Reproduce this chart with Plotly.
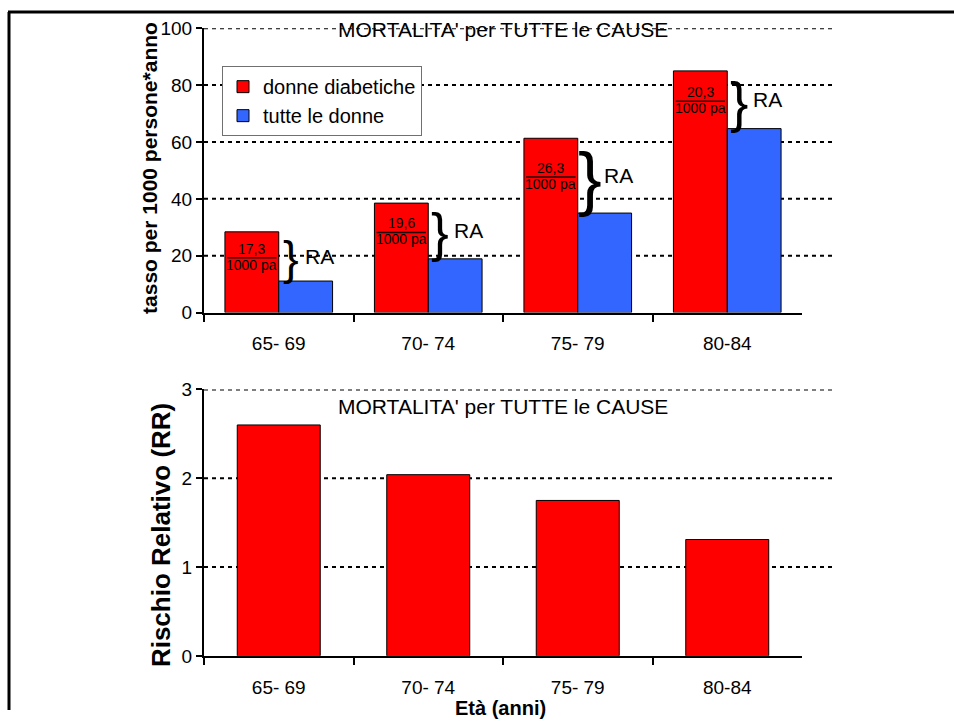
import plotly.graph_objects as go

# ---- data ----
age_groups = ["65- 69", "70- 74", "75- 79", "80-84"]
rate_diabetic = [28.4, 38.5, 61.3, 85.0]      # donne diabetiche, per 1000 pa
rate_all = [11.1, 18.9, 35.0, 64.7]           # tutte le donne, per 1000 pa
ra_labels = ["17,3", "19,6", "26,3", "20,3"]  # rischio attribuibile
rr_values = [2.60, 2.04, 1.75, 1.31]          # rischio relativo
top_ticks = [0, 20, 40, 60, 80, 100]
bottom_ticks = [0, 1, 2, 3]

W, H = 954, 721
FONT = "Liberation Sans, Arial, sans-serif"
RED = "#FF0000"
BLUE = "#3366FF"
VSCALE = 0.973  # compensates the vertical squeeze seen in the photographed page


def px_x(p):
    return p / W


def px_y(p):
    y_in = H / 2 + (p - H / 2) / VSCALE
    return min(1.0, max(0.0, 1 - y_in / H))


fig = go.Figure()

fig.add_trace(go.Bar(x=age_groups, y=rate_diabetic, name="donne diabetiche",
                     marker=dict(color=RED, line=dict(color="black", width=1)),
                     xaxis="x", yaxis="y"))
fig.add_trace(go.Bar(x=age_groups, y=rate_all, name="tutte le donne",
                     marker=dict(color=BLUE, line=dict(color="black", width=1)),
                     xaxis="x", yaxis="y"))
fig.add_trace(go.Bar(x=age_groups, y=rr_values, name="RR", showlegend=False,
                     width=0.555,
                     marker=dict(color=RED, line=dict(color="black", width=1)),
                     xaxis="x2", yaxis="y2"))

x_dom = [px_x(204), px_x(802)]
axis_common = dict(type="category", categoryorder="array", categoryarray=age_groups,
                   range=[-0.5, 3.5], domain=x_dom, tickson="boundaries",
                   ticks="outside", ticklen=7, tickwidth=1.5, tickcolor="black",
                   showline=True, linecolor="black", linewidth=2, showgrid=False,
                   ticklabelstandoff=13,
                   tickfont=dict(family=FONT, size=19, color="black"),
                   fixedrange=True)

fig.update_layout(
    width=W, height=H,
    margin=dict(l=0, r=0, t=0, b=0),
    paper_bgcolor="white", plot_bgcolor="white",
    barmode="group", bargap=0.28, bargroupgap=0,
    font=dict(family=FONT, color="black"),
    xaxis=dict(anchor="y", **axis_common),
    xaxis2=dict(anchor="y2", **axis_common),
    yaxis=dict(domain=[px_y(313), px_y(28)], range=[0, 100], tickvals=top_ticks,
               showgrid=False, zeroline=False, showline=True, linecolor="black",
               linewidth=2, ticks="outside", ticklen=6, tickwidth=1.5,
               tickcolor="black", anchor="x", fixedrange=True,
               tickfont=dict(family=FONT, size=19, color="black")),
    yaxis2=dict(domain=[px_y(657), px_y(390)], range=[0, 3], tickvals=bottom_ticks,
                showgrid=False, zeroline=False, showline=True, linecolor="black",
                linewidth=2, ticks="outside", ticklen=6, tickwidth=1.5,
                tickcolor="black", anchor="x2", fixedrange=True,
                tickfont=dict(family=FONT, size=19, color="black")),
    legend=dict(x=px_x(222), y=px_y(66), xanchor="left", yanchor="top",
                bgcolor="white", bordercolor="#707070", borderwidth=1,
                font=dict(family=FONT, size=20, color="black"),
                tracegroupgap=0, itemwidth=30),
    showlegend=True,
)

shapes = []
# dotted gridlines
for v in top_ticks[1:]:
    shapes.append(dict(type="line", xref="paper", yref="y", x0=px_x(204), x1=px_x(832),
                       y0=v, y1=v, layer="below",
                       line=dict(color="black", width=2, dash="4px,4px")))
for v in bottom_ticks[1:]:
    shapes.append(dict(type="line", xref="paper", yref="y2", x0=px_x(204), x1=px_x(832),
                       y0=v, y1=v, layer="below",
                       line=dict(color="black", width=2, dash="4px,4px")))
# outer frame
frame_y = 1 - 2.0 / H
shapes.append(dict(type="line", xref="paper", yref="paper", x0=px_x(8), x1=1,
                   y0=frame_y, y1=frame_y, line=dict(color="black", width=3)))
shapes.append(dict(type="line", xref="paper", yref="paper", x0=px_x(9), x1=px_x(9),
                   y0=0, y1=frame_y, line=dict(color="black", width=3)))

annotations = []
px_per_unit = (313 - 28) / 100.0
for i, (r, a, lab) in enumerate(zip(rate_diabetic, rate_all, ra_labels)):
    mid = (r + a) / 2.0
    cx = i - 0.18
    # fraction line
    shapes.append(dict(type="line", xref="x", yref="y", x0=cx - 0.165, x1=cx + 0.165,
                       y0=mid - 0.5, y1=mid - 0.5, line=dict(color="#200000", width=1.5)))
    annotations.append(dict(x=cx, y=mid - 0.5, xref="x", yref="y", text=lab,
                            showarrow=False, yanchor="bottom", yshift=-1,
                            font=dict(family=FONT, size=14, color="black")))
    annotations.append(dict(x=cx, y=mid - 0.5, xref="x", yref="y", text="1000 pa",
                            showarrow=False, yanchor="top", yshift=3,
                            font=dict(family=FONT, size=14, color="black")))
    # brace + RA
    diff_px = (r - a) * px_per_unit
    annotations.append(dict(x=i + 0.08, y=mid, xref="x", yref="y", text="}",
                            showarrow=False, yanchor="middle", xanchor="center",
                            yshift=-2,
                            font=dict(family=FONT, size=max(42, 0.95 * diff_px),
                                      color="black")))
    annotations.append(dict(x=i + 0.27, y=mid, xref="x", yref="y", text="RA",
                            showarrow=False, yanchor="middle", xanchor="center",
                            font=dict(family=FONT, size=21, color="black")))

# titles
annotations.append(dict(x=px_x(503), y=px_y(29), xref="paper", yref="paper",
                        text="MORTALITA' per TUTTE le CAUSE", showarrow=False,
                        yanchor="middle", font=dict(family=FONT, size=21, color="black")))
annotations.append(dict(x=px_x(503), y=px_y(407), xref="paper", yref="paper",
                        text="MORTALITA' per TUTTE le CAUSE", showarrow=False,
                        yanchor="middle", font=dict(family=FONT, size=21, color="black")))
annotations.append(dict(x=px_x(150), y=px_y(168), xref="paper", yref="paper",
                        text="<b>tasso per 1000 persone*anno</b>", showarrow=False,
                        textangle=-90, xanchor="center", yanchor="middle",
                        font=dict(family=FONT, size=21, color="black")))
annotations.append(dict(x=px_x(161), y=px_y(536), xref="paper", yref="paper",
                        text="<b>Rischio Relativo (RR)</b>", showarrow=False,
                        textangle=-90, xanchor="center", yanchor="middle",
                        font=dict(family=FONT, size=26, color="black")))
annotations.append(dict(x=px_x(500), y=px_y(709), xref="paper", yref="paper",
                        text="<b>Età (anni)</b>", showarrow=False,
                        xanchor="center", yanchor="middle",
                        font=dict(family=FONT, size=20, color="black")))

fig.update_layout(shapes=shapes, annotations=annotations)

post = (
    "document.documentElement.style.margin='0';"
    "document.documentElement.style.padding='0';"
    "document.documentElement.style.overflow='hidden';"
    "document.body.style.margin='0';"
    "document.body.style.padding='0';"
    "document.body.style.overflow='hidden';"
    "var d=document.getElementById('{plot_id}');"
    "d.style.position='fixed';d.style.top='0px';d.style.left='0px';"
)

fig.write_html("out.html", config={"displayModeBar": False}, post_script=post)
